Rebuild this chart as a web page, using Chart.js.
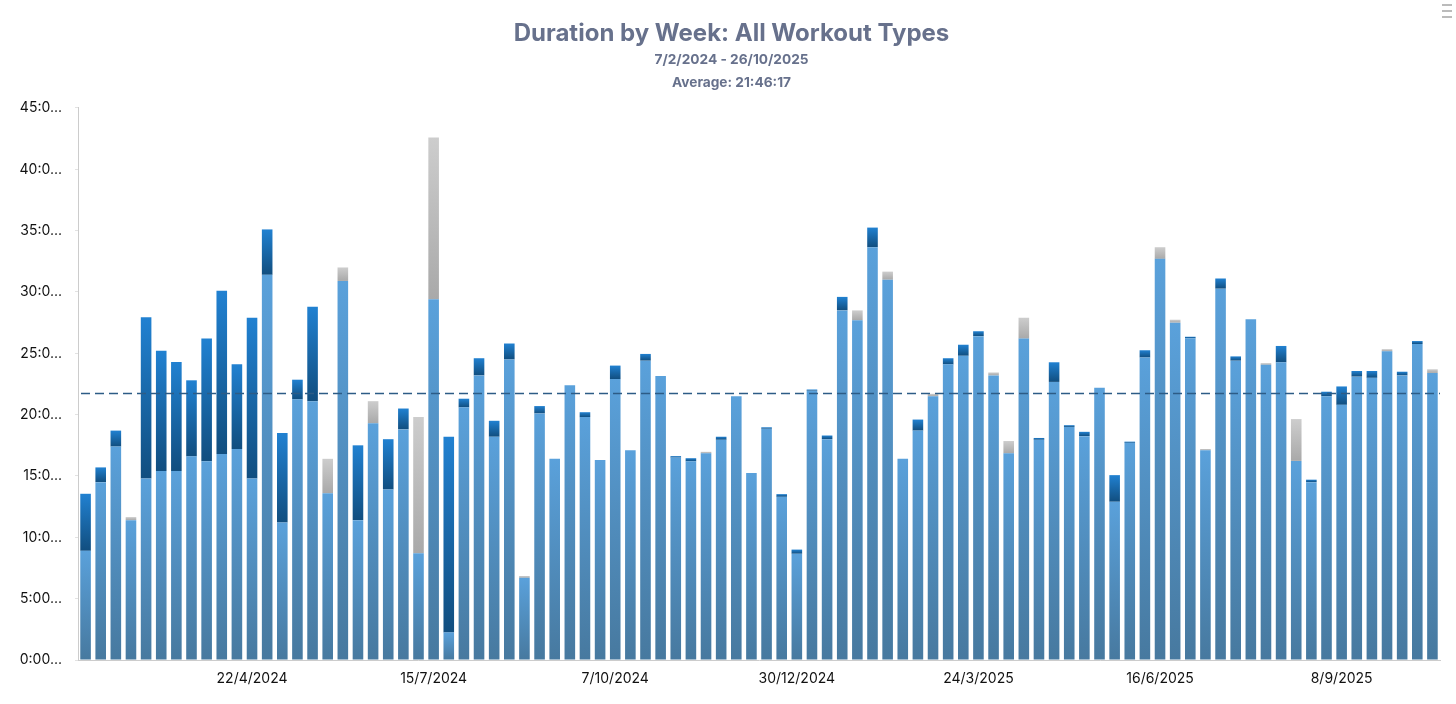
<!DOCTYPE html>
<html>
<head>
<meta charset="utf-8">
<title>Duration by Week</title>
<script src="https://cdn.jsdelivr.net/npm/chart.js"></script>
<style>
    html, body { margin: 0; padding: 0; background: #fff; }
    #wrap { position: relative; width: 1456px; height: 704px; }
    #menu { position: absolute; right: 4px; top: 4px; width: 10px; height: 2px; background: #bbb;
            box-shadow: 0 6px 0 #bbb, 0 12px 0 #bbb; }
</style>
</head>
<body>
<div id="wrap">
    <canvas id="durationChart" width="1456" height="704"></canvas>
    <div id="menu"></div>
</div>
<script>
    // Week starts (Mondays), 90 weeks from 5/2/2024
    var firstWeek = Date.UTC(2024, 1, 5);
    var weekCount = 90;
    var weeks = [];
    for (var w = 0; w < weekCount; w++) {
        var d = new Date(firstWeek + w * 7 * 86400000);
        weeks.push(d.getUTCDate() + '/' + (d.getUTCMonth() + 1) + '/' + d.getUTCFullYear());
    }

    // Hours per week, by workout group (bottom, middle, top of stack)
    var mainHours = [
        8.9, 14.5, 17.4, 11.4, 14.8, 15.4, 15.4, 16.6, 16.2, 16.8,
        17.2, 14.8, 31.4, 11.2, 21.25, 21.1, 13.6, 30.9, 11.4, 19.3,
        13.9, 18.8, 8.7, 29.4, 2.25, 20.6, 23.2, 18.2, 24.5, 6.7,
        20.1, 16.4, 22.4, 19.8, 16.3, 22.9, 17.1, 24.4, 23.15, 16.5,
        16.2, 16.85, 17.95, 21.5, 15.25, 18.85, 13.3, 8.66, 21.95, 18.0,
        28.5, 27.7, 33.65, 31.0, 16.4, 18.7, 21.5, 24.1, 24.8, 26.4,
        23.2, 16.85, 26.2, 17.95, 22.67, 19.0, 18.25, 22.2, 12.9, 17.7,
        24.66, 32.7, 27.5, 26.23, 17.1, 30.27, 24.4, 27.77, 24.07, 24.27,
        16.23, 14.5, 21.5, 20.8, 23.1, 23.0, 25.16, 23.2, 25.76, 23.4
    ];
    var secondHours = [
        4.65, 1.2, 1.3, 0, 13.15, 9.8, 8.9, 6.2, 10.0, 13.3,
        6.9, 13.1, 3.7, 7.3, 1.6, 7.7, 0, 0, 6.1, 0,
        4.1, 1.7, 0, 0, 15.95, 0.7, 1.4, 1.3, 1.3, 0,
        0.6, 0, 0, 0.4, 0, 1.1, 0, 0.55, 0, 0.12,
        0.25, 0, 0.25, 0, 0, 0.12, 0.22, 0.34, 0.1, 0.3,
        1.1, 0, 1.6, 0, 0, 0.9, 0, 0.5, 0.9, 0.4,
        0, 0, 0, 0.15, 1.6, 0.14, 0.35, 0, 2.17, 0.1,
        0.59, 0, 0, 0.12, 0, 0.83, 0.35, 0, 0, 1.33,
        0, 0.2, 0.37, 1.5, 0.46, 0.56, 0, 0.3, 0.24, 0
    ];
    var otherHours = [
        0, 0, 0, 0.25, 0, 0, 0, 0, 0, 0,
        0, 0, 0, 0, 0, 0, 2.8, 1.1, 0, 1.8,
        0, 0, 11.1, 13.2, 0, 0, 0, 0, 0, 0.15,
        0, 0, 0, 0, 0, 0, 0, 0, 0, 0,
        0, 0.12, 0, 0, 0, 0, 0, 0, 0, 0,
        0, 0.8, 0, 0.66, 0, 0, 0.2, 0, 0, 0,
        0.24, 1.0, 1.7, 0, 0, 0, 0, 0, 0, 0,
        0, 0.95, 0.24, 0, 0.1, 0, 0, 0, 0.13, 0,
        3.41, 0, 0, 0, 0, 0, 0.18, 0, 0, 0.3
    ];
    var seriesList = [mainHours, secondHours, otherHours];

    var averageHours = 21 + 46 / 60 + 17 / 3600;
    var yTicks = [0, 5, 10, 15, 20, 25, 30, 35, 40, 45];
    var labelEvery = 12, labelOffset = 11;


    // gradient from top to bottom of each bar piece
    function segGradient(topColor, bottomColor) {
        return function (ctx) {
            var chart = ctx.chart;
            var y = chart.scales.y;
            if (ctx.type !== 'data' || !chart.chartArea || !y) return topColor;
            var i = ctx.dataIndex;
            var base = 0;
            for (var k = 0; k < ctx.datasetIndex; k++) base += seriesList[k][i];
            var top = base + seriesList[ctx.datasetIndex][i];
            var y0 = y.getPixelForValue(top), y1 = y.getPixelForValue(base);
            if (!isFinite(y0) || !isFinite(y1) || y1 - y0 < 1) return topColor;
            var g = chart.ctx.createLinearGradient(0, y0, 0, y1);
            g.addColorStop(0, topColor);
            g.addColorStop(1, bottomColor);
            return g;
        };
    }

    function hms(v) {
        return v + ':00:00';
    }

    // dashed average line
    var averageLine = {
        id: 'averageLine',
        afterDatasetsDraw: function (chart) {
            var a = chart.chartArea, c = chart.ctx;
            var yy = Math.round(chart.scales.y.getPixelForValue(averageHours)) + 0.5;
            c.save();
            c.strokeStyle = '#2d5c86';
            c.lineWidth = 1.6;
            c.setLineDash([9, 5]);
            c.beginPath();
            c.moveTo(a.left + 3, yy);
            c.lineTo(a.right, yy);
            c.stroke();
            c.restore();
        }
    };

    var tickFont = { family: 'Inter, "Liberation Sans", sans-serif', size: 14 };

    new Chart(document.getElementById('durationChart'), {
        type: 'bar',
        data: {
            labels: weeks,
            datasets: [{
                label: 'Main',
                data: mainHours,
                backgroundColor: segGradient('#5aa1db', '#47799f')
            }, {
                label: 'Second',
                data: secondHours,
                backgroundColor: segGradient('#2181d1', '#114e7f')
            }, {
                label: 'Other',
                data: otherHours,
                backgroundColor: segGradient('#cdcdcd', '#a9a9a9')
            }]
        },
        options: {
            responsive: false,
            animation: false,
            layout: { padding: { left: 7, right: 0, top: 0, bottom: 0 } },
            datasets: {
                bar: { categoryPercentage: 1, barPercentage: 0.7, borderWidth: 0 }
            },
            plugins: {
                legend: { display: false },
                title: {
                    display: true,
                    text: 'Duration by Week: All Workout Types',
                    color: '#67718c',
                    font: { family: 'Inter, "Liberation Sans", sans-serif', size: 24, weight: 'bold' },
                    padding: { top: 19, bottom: 0 }
                },
                subtitle: {
                    display: true,
                    text: ['7/2/2024 - 26/10/2025', 'Average: 21:46:17'],
                    color: '#67718c',
                    font: { family: 'Inter, "Liberation Sans", sans-serif', size: 13.7, weight: 'bold', lineHeight: 1.7 },
                    padding: { top: 0, bottom: 13.6 }
                }
            },
            scales: {
                x: {
                    stacked: true,
                    grid: { display: false, drawTicks: false },
                    border: { color: '#cccccc', width: 1 },
                    afterFit: function (s) { s.height = 44; },
                    ticks: {
                        autoSkip: false,
                        maxRotation: 0,
                        padding: 10,
                        color: '#111',
                        font: tickFont,
                        callback: function (v, i) {
                            return (i - labelOffset) % labelEvery === 0 && i >= labelOffset ? weeks[i] : '';
                        }
                    }
                },
                y: {
                    stacked: true,
                    min: 0,
                    max: 45,
                    afterBuildTicks: function (s) {
                        s.ticks = yTicks.map(function (v) { return { value: v }; });
                    },
                    afterFit: function (s) { s.width = 71; },
                    grid: { drawOnChartArea: false, tickLength: 3, color: '#e2e2e2' },
                    border: { color: '#cccccc', width: 1 },
                    ticks: {
                        padding: 13,
                        color: '#111',
                        font: tickFont,
                        callback: function (v) {
                            return hms(v).slice(0, 4) + '...';
                        }
                    }
                },
                // empty right gutter
                gutter: {
                    type: 'linear',
                    position: 'right',
                    display: true,
                    grid: { display: false, drawTicks: false },
                    border: { display: false },
                    ticks: { display: false },
                    afterFit: function (s) { s.width = 16; }
                }
            }
        },
        plugins: [averageLine]
    });
</script>
</body>
</html>
